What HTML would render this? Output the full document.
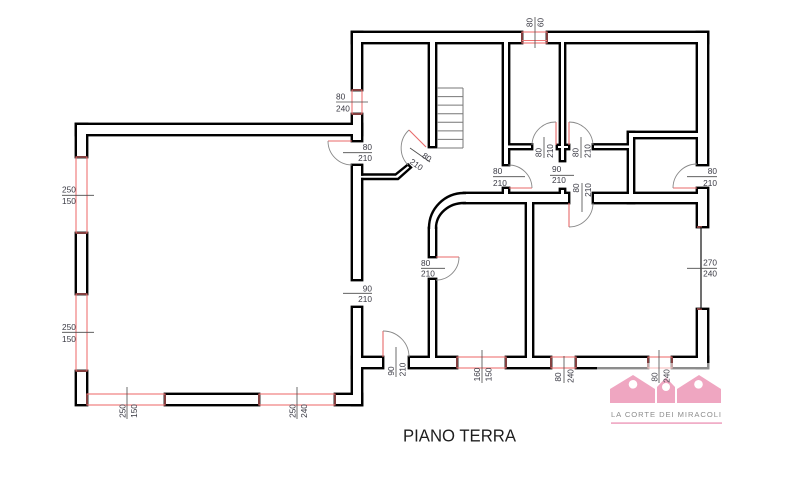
<!DOCTYPE html>
<html>
<head>
<meta charset="utf-8">
<style>
  html,body{margin:0;padding:0;background:#fff;}
  svg{display:block;}
</style>
</head>
<body>
<svg width="800" height="480" viewBox="0 0 800 480" xmlns="http://www.w3.org/2000/svg" font-family="'Liberation Sans', sans-serif">
  <defs>
    <g id="walls">
      <rect x="77" y="125" width="9" height="31"/>
      <rect x="77" y="234" width="9" height="59"/>
      <rect x="77" y="372" width="9" height="32"/>
      <rect x="77" y="125" width="284" height="9"/>
      <rect x="166" y="395" width="92" height="9"/>
      <rect x="336" y="395" width="25" height="9"/>
      <rect x="353" y="33" width="8" height="56"/>
      <rect x="353" y="115" width="8" height="25"/>
      <rect x="353" y="166" width="8" height="113"/>
      <rect x="353" y="308" width="8" height="96"/>
      <rect x="353" y="33" width="168" height="9"/>
      <rect x="548" y="33" width="159" height="9"/>
      <rect x="698" y="33" width="9" height="131"/>
      <rect x="698" y="189" width="9" height="37"/>
      <rect x="698" y="310" width="9" height="57"/>
      <rect x="353" y="358" width="29" height="9"/>
      <rect x="410" y="358" width="46" height="9"/>
      <rect x="507" y="358" width="43" height="9"/>
      <rect x="577" y="358" width="70" height="9"/>
      <rect x="673" y="358" width="34" height="9"/>
      <rect x="430" y="39" width="5" height="107"/>
      <rect x="504" y="39" width="4" height="125"/>
      <rect x="506" y="145.5" width="25" height="2.5"/>
      <rect x="561" y="39" width="3" height="121"/>
      <rect x="558" y="146" width="10" height="2"/>
      <rect x="594" y="145.5" width="36" height="2.5"/>
      <rect x="629" y="133" width="4" height="69"/>
      <rect x="629" y="133" width="70" height="4"/>
      <rect x="594" y="194" width="105" height="8"/>
      <rect x="465" y="194" width="103" height="8"/>
      <rect x="504" y="189" width="4" height="6"/>
      <rect x="561" y="190" width="3" height="5"/>
      <rect x="430" y="280" width="5" height="79"/>
      <rect x="430" y="229" width="5" height="27"/>
      <rect x="527" y="201" width="5" height="158"/>
    </g>
  </defs>

  <rect x="0" y="0" width="800" height="480" fill="#fff"/>

  <!-- walls: black pass then white pass -->
  <use href="#walls" fill="#000" stroke="#000" stroke-width="4.8" stroke-linejoin="miter"/>
  <use href="#walls" fill="#fff"/>

  <!-- patches to open caps for curved wall and corridor wall -->
  <rect x="430" y="225" width="5" height="6" fill="#fff"/>
  <rect x="461" y="194" width="6" height="8" fill="#fff"/>
  <rect x="360.5" y="175.8" width="4" height="2" fill="#fff"/>

  <!-- curved corner of middle room -->
  <g fill="none" stroke="#000" stroke-width="2.4">
    <path d="M429,229 L429,228 A35,35 0 0 1 464,193 L466,193"/>
    <path d="M436,229 L436,228 A28,25 0 0 1 464,203 L466,203"/>
    <!-- corridor thin wall with diagonal -->
    <path d="M361,174.5 L395.5,174.5 L408,164.5 L411,167.5 L398,179 L361,179" stroke-linejoin="miter"/>
  </g>

  <!-- stairs -->
  <g fill="none" stroke="#777" stroke-width="1">
    <line x1="463" y1="88" x2="463" y2="148"/>
    <line x1="437" y1="88" x2="463" y2="88"/>
    <line x1="437" y1="96.6" x2="463" y2="96.6"/>
    <line x1="437" y1="105.1" x2="463" y2="105.1"/>
    <line x1="437" y1="113.7" x2="463" y2="113.7"/>
    <line x1="437" y1="122.3" x2="463" y2="122.3"/>
    <line x1="437" y1="130.9" x2="463" y2="130.9"/>
    <line x1="437" y1="139.4" x2="463" y2="139.4"/>
    <line x1="437" y1="148" x2="463" y2="148"/>
  </g>

  <!-- windows -->
  <g fill="none" stroke="#ef7474" stroke-width="1.1">
    <rect x="76" y="157" width="11" height="76"/>
    <rect x="76" y="294" width="11" height="77"/>
    <rect x="87" y="394" width="78" height="11"/>
    <rect x="259" y="394" width="76" height="11"/>
    <rect x="352" y="90" width="10" height="24"/>
    <rect x="522" y="32" width="25" height="11"/>
    <line x1="522" y1="40.5" x2="547" y2="40.5"/>
    <rect x="457" y="357" width="49" height="11"/>
    <rect x="551" y="357" width="25" height="11"/>
    <rect x="648" y="357" width="24" height="11"/>
    <line x1="697" y1="227" x2="702" y2="227"/>
    <line x1="697" y1="309" x2="702" y2="309"/>
  </g>
  <line x1="701" y1="227" x2="701" y2="309" stroke="#111" stroke-width="1.2"/>

  <!-- door leaves -->
  <g fill="none" stroke="#e86a6a" stroke-width="1.1">
    <line x1="328" y1="141" x2="352" y2="141"/>
    <line x1="426" y1="147" x2="409" y2="130"/>
    <line x1="556" y1="145" x2="556" y2="122"/>
    <line x1="569" y1="145" x2="569" y2="122"/>
    <line x1="509" y1="188" x2="532" y2="188"/>
    <line x1="673" y1="188" x2="697" y2="188"/>
    <line x1="569" y1="203" x2="569" y2="227"/>
    <line x1="436" y1="257" x2="459" y2="257"/>
    <line x1="383" y1="357" x2="383" y2="331"/>
  </g>
  <!-- door arcs -->
  <g fill="none" stroke="#888" stroke-width="0.9">
    <path d="M328,141 A24,24 0 0 0 352,165"/>
    <path d="M409,130 A24.5,24.5 0 0 0 408,165"/>
    <path d="M556,122 A23.5,23.5 0 0 0 532,145"/>
    <path d="M569,122 A24,24 0 0 1 593,145"/>
    <path d="M532,188 A23.5,23.5 0 0 0 508.5,165"/>
    <path d="M673,188 A24,24 0 0 1 697,164"/>
    <path d="M569,227 A24,24 0 0 0 593,203"/>
    <path d="M459,257 A23,23 0 0 1 436,280"/>
    <path d="M383,331 A26,26 0 0 1 409,357"/>
  </g>

  <!-- label lines -->
  <g stroke="#4a4a4a" stroke-width="0.8">
    <line x1="336" y1="102" x2="368" y2="102"/>
    <line x1="343" y1="152.7" x2="372" y2="152.7"/>
    <line x1="343" y1="293.3" x2="372" y2="293.3"/>
    <line x1="62" y1="195.3" x2="94" y2="195.3"/>
    <line x1="62" y1="332.3" x2="94" y2="332.3"/>
    <line x1="421" y1="268.3" x2="445" y2="268.3"/>
    <line x1="493" y1="176.7" x2="525" y2="176.7"/>
    <line x1="550" y1="175.3" x2="574" y2="175.3"/>
    <line x1="687" y1="176.7" x2="717" y2="176.7"/>
    <line x1="687" y1="268.3" x2="717" y2="268.3"/>
    <line x1="127" y1="387" x2="127" y2="419"/>
    <line x1="297" y1="387" x2="297" y2="419"/>
    <line x1="396" y1="347" x2="396" y2="377"/>
    <line x1="482" y1="350" x2="482" y2="383"/>
    <line x1="564" y1="356" x2="564" y2="383"/>
    <line x1="535" y1="17" x2="535" y2="48"/>
    <line x1="544" y1="137" x2="544" y2="158"/>
    <line x1="581" y1="137" x2="581" y2="158"/>
    <line x1="582" y1="183" x2="582" y2="212"/>
    <line x1="410" y1="148" x2="430" y2="162"/>
  </g>

  <!-- labels -->
  <g font-size="8.3" fill="#3a3a44">
    <text x="336" y="99.5">80</text><text x="336" y="111.5">240</text>
    <text x="372" y="150" text-anchor="end">80</text><text x="372" y="161.2" text-anchor="end">210</text>
    <text x="372" y="291.5" text-anchor="end">90</text><text x="372" y="302.2" text-anchor="end">210</text>
    <text x="62" y="192.3">250</text><text x="62" y="204">150</text>
    <text x="62" y="330">250</text><text x="62" y="342">150</text>
    <text x="421" y="266">80</text><text x="421" y="276.7">210</text>
    <text x="493" y="174">80</text><text x="493" y="186">210</text>
    <text x="552" y="172">90</text><text x="552" y="183">210</text>
    <text x="717" y="174" text-anchor="end">80</text><text x="717" y="186" text-anchor="end">210</text>
    <text x="717" y="265.5" text-anchor="end">270</text><text x="717" y="276.5" text-anchor="end">240</text>

    <g text-anchor="middle">
      <text transform="translate(125.3,411) rotate(-90)">250</text>
      <text transform="translate(136.8,411) rotate(-90)">150</text>
      <text transform="translate(295.3,411) rotate(-90)">250</text>
      <text transform="translate(306.8,411) rotate(-90)">240</text>
      <text transform="translate(393.8,371) rotate(-90)">90</text>
      <text transform="translate(405.3,369.5) rotate(-90)">210</text>
      <text transform="translate(479.8,374.5) rotate(-90)">160</text>
      <text transform="translate(491.3,374.5) rotate(-90)">150</text>
      <text transform="translate(561,377) rotate(-90)">80</text>
      <text transform="translate(573.3,376) rotate(-90)">240</text>
      <text transform="translate(532.5,22.5) rotate(-90)">80</text>
      <text transform="translate(543.5,22.5) rotate(-90)">60</text>
      <text transform="translate(541.5,152.5) rotate(-90)">80</text>
      <text transform="translate(553,151) rotate(-90)">210</text>
      <text transform="translate(578.5,152.5) rotate(-90)">80</text>
      <text transform="translate(590.3,151) rotate(-90)">210</text>
      <text transform="translate(579,188) rotate(-90)">80</text>
      <text transform="translate(591,190) rotate(-90)">210</text>
      <text transform="translate(427,157) rotate(35)" y="3">80</text>
      <text transform="translate(416.5,164.5) rotate(35)" y="3">210</text>
    </g>
  </g>

  <!-- logo overlay -->
  <rect x="597" y="363" width="130" height="66" fill="#fff" opacity="0.55"/>
  <g fill="#efa6c1">
    <polygon points="610,389 633,375 655,389 655,403 610,403"/>
    <polygon points="657,387 666,377.5 675,387 675,403 657,403"/>
    <polygon points="677,389 699,375 721,389 721,403 677,403"/>
    <rect x="611" y="422.3" width="111" height="1.6"/>
  </g>
  <g fill="#fff">
    <circle cx="633" cy="384.3" r="4.3"/>
    <circle cx="666" cy="387" r="4"/>
    <circle cx="698.5" cy="384.3" r="4.3"/>
  </g>
  <text x="611" y="417" font-size="7.6" fill="#8c8c8c" textLength="110" lengthAdjust="spacing">LA CORTE DEI MIRACOLI</text>

  <!-- label over logo -->
  <line x1="659" y1="350" x2="659" y2="383" stroke="#4a4a4a" stroke-width="0.8"/>
  <g font-size="8.3" fill="#4a4a52" text-anchor="middle">
    <text transform="translate(657.5,377) rotate(-90)">80</text>
    <text transform="translate(669.5,376) rotate(-90)">240</text>
  </g>

  <!-- title -->
  <text x="403" y="441.7" font-size="17.3" fill="#1e1e1e" textLength="113" lengthAdjust="spacingAndGlyphs">PIANO TERRA</text>
</svg>
</body>
</html>
